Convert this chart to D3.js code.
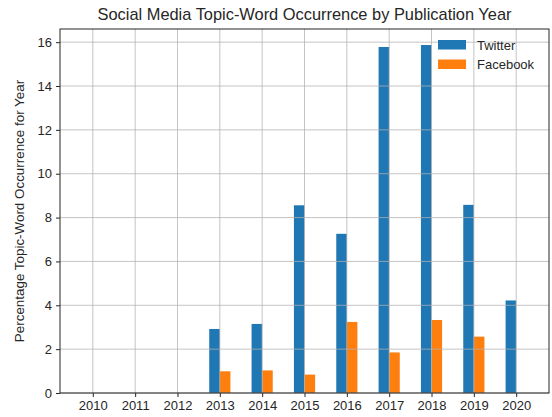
<!DOCTYPE html>
<html>
<head>
<meta charset="utf-8">
<script src="https://cdn.jsdelivr.net/npm/d3@7/dist/d3.min.js"></script>
<style>
  html, body { margin: 0; padding: 0; background: #fff; }
  svg { display: block; font-family: "Liberation Sans", Arial, sans-serif; }
</style>
</head>
<body>
<svg id="chart" width="552" height="417"></svg>
<script>
const years = ["2010","2011","2012","2013","2014","2015","2016","2017","2018","2019","2020"];
const twitter = [0, 0, 0, 2.92, 3.15, 8.56, 7.26, 15.78, 15.87, 8.58, 4.22];
const facebook = [0, 0, 0, 0.99, 1.03, 0.84, 3.24, 1.85, 3.33, 2.57, 0];
const yTicks = [0, 2, 4, 6, 8, 10, 12, 14, 16];
const seriesNames = ["Twitter", "Facebook"];
const colors = ["#1f77b4", "#ff7f0e"];

const W = 552, H = 417;
const m = { left: 60, right: 3, top: 29, bottom: 24 };
const svg = d3.select("#chart");
const x = d3.scaleLinear().domain([-0.775, 10.775]).range([m.left, W - m.right]);
const y = d3.scaleLinear().domain([0, 16.6]).range([H - m.bottom, m.top]);
const bw = 0.25;
const fs = 13;

const g = svg.append("g");
// bars
const series = [twitter, facebook];
series.forEach((vals, si) => {
  g.selectAll(null).data(vals).enter().append("rect")
    .attr("x", (d, i) => si === 0 ? x(i - bw) : x(i))
    .attr("width", x(bw) - x(0))
    .attr("y", d => y(d))
    .attr("height", d => y(0) - y(d))
    .attr("fill", colors[si]);
});

// grid (above bars)
const grid = svg.append("g").attr("stroke", "#b0b0b0").attr("stroke-opacity", 0.75).attr("stroke-width", 1);
years.forEach((yr, i) => {
  grid.append("line").attr("x1", x(i)).attr("x2", x(i)).attr("y1", m.top).attr("y2", H - m.bottom);
});
yTicks.forEach(t => {
  grid.append("line").attr("x1", m.left).attr("x2", W - m.right).attr("y1", y(t)).attr("y2", y(t));
});

// axes
const xAxis = d3.axisBottom(x).tickValues(d3.range(years.length)).tickFormat(i => years[i]).tickSizeOuter(0).tickSize(4).tickPadding(4);
const yAxis = d3.axisLeft(y).tickValues(yTicks).tickSizeOuter(0).tickSize(4).tickPadding(4);
const gx = svg.append("g").attr("transform", `translate(0,${H - m.bottom})`).call(xAxis);
const gy = svg.append("g").attr("transform", `translate(${m.left},0)`).call(yAxis);
[gx, gy].forEach(a => {
  a.select(".domain").remove();
  a.selectAll("text").attr("font-size", fs).attr("fill", "#262626").attr("font-family", "Liberation Sans, Arial, sans-serif");
  a.selectAll("line").attr("stroke", "#262626");
});

// frame
svg.append("rect").attr("x", m.left).attr("y", m.top)
  .attr("width", W - m.right - m.left).attr("height", H - m.bottom - m.top)
  .attr("fill", "none").attr("stroke", "#262626").attr("stroke-width", 1);

// title
svg.append("text").attr("x", (m.left + W - m.right) / 2).attr("y", 20)
  .attr("text-anchor", "middle").attr("font-size", 16.4).attr("fill", "#262626")
  .text("Social Media Topic-Word Occurrence by Publication Year");

// y label
svg.append("text").attr("transform", `translate(24,${(m.top + H - m.bottom) / 2}) rotate(-90)`)
  .attr("text-anchor", "middle").attr("font-size", 13.4).attr("fill", "#262626")
  .text("Percentage Topic-Word Occurrence for Year");

// legend
const leg = svg.append("g");
seriesNames.forEach((n, i) => {
  const ly = 40 + i * 19.5;
  leg.append("rect").attr("x", 438).attr("y", ly).attr("width", 28).attr("height", 9.5).attr("fill", colors[i]);
  leg.append("text").attr("x", 477).attr("y", ly + 9.7).attr("font-size", fs).attr("fill", "#262626").text(n);
});
</script>
</body>
</html>
